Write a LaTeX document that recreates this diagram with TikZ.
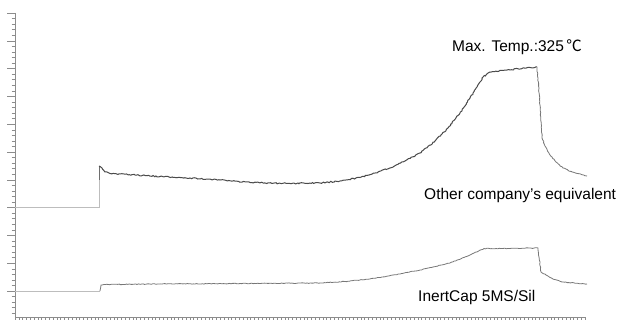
\documentclass[tikz,border=0pt]{standalone}
\usepackage{fontspec}
\setmainfont{Liberation Sans}
\newfontfamily\cjkfont{Noto Sans CJK KR}
\usepackage{tikz}
\usetikzlibrary{decorations.pathmorphing}

\definecolor{axisgray}{HTML}{8C8C8C}
\definecolor{basegray}{HTML}{BDBDBD}
\definecolor{tracegray}{HTML}{4A4A4A}

\tikzset{
	axisline/.style={axisgray, line width=0.8pt},
	tickline/.style={axisgray, line width=0.5pt},
	baseline/.style={basegray, line width=1pt},
	trace/.style={tracegray, line width=1pt, decorate,
		decoration={random steps, segment length=1.5pt, amplitude=0.6pt}},
	tracelight/.style={tracegray!75, line width=0.8pt, decorate,
		decoration={random steps, segment length=1.5pt, amplitude=0.35pt}},
	lbl/.style={font=\fontsize{15.5}{17}\selectfont, inner sep=0pt, anchor=west}
}

\begin{document}
\begin{tikzpicture}[x=1pt, y=-1pt]
	\pgfmathsetseed{7}
	\def\xa{15}		%x of vertical axis
	\def\xb{585}	%right end of time axis
	\def\yb{317}	%y of time axis
	\def\dy{27.8}	%spacing of major ticks on vertical axis
	\useasboundingbox (0,0) rectangle (618,323);

	\draw[axisline] (\xa,13) -- (\xa,\yb) -- (\xb,\yb);	%axes

	\foreach \i in {0,...,10}{
		\draw[tickline] (7,{13+\i*\dy}) -- (\xa,{13+\i*\dy});	%major ticks
		\foreach \j in {1,...,4}{
			\draw[tickline] (11.5,{13+\i*\dy+\j*\dy/5}) -- (\xa,{13+\i*\dy+\j*\dy/5});	%minor ticks
		}
	}
	\foreach \k in {0,...,150}{
		\draw[tickline] ({\xa+\k*3.8},\yb) -- ({\xa+\k*3.8},{\yb+2.5});	%time ticks
	}

	%other company's column
	\draw[baseline] (\xa,207) -- (99,207) -- (99,180);
	\draw[tracegray!80, line width=0.9pt] (99,180) -- (99,166);
	\draw[trace] (99,166) -- (102,168) -- (105,172) -- (110,173.5) -- (135,175) -- (160,176.5) -- (190,178)
		-- (220,180) -- (250,182.5) -- (290,183.5) -- (320,183) -- (340,181) -- (360,177.5) -- (375,173) -- (390,168)
		-- (405,161) -- (420,153) -- (435,141) -- (448,128) -- (460,113) -- (470,98) -- (477,87) -- (483,77)
		-- (490,72) -- (507,70) -- (537,67);
	\draw[tracelight] (537,67) -- (540,105) -- (542,137) -- (545,146) -- (550,155) -- (556,162) -- (563,168)
		-- (572,172) -- (587,176);

	%InertCap column
	\draw[baseline] (\xa,291) -- (100,291);
	\draw[tracelight] (100,291) -- (101,285) -- (104,284.5) -- (150,284) -- (250,283.5) -- (320,283)
		-- (345,281.5) -- (370,279) -- (400,274) -- (420,270) -- (450,263) -- (470,255) -- (484,248.5)
		-- (510,248.5) -- (538,248) -- (541,272) -- (546,275) -- (553,279) -- (563,282) -- (587,284);

	\node[lbl] (maxtemp) at (452,47) {Max. Temp.:325\,{\cjkfont ℃}};
	\node[lbl] (other) at (424,195) {Other company’s equivalent};
	\node[lbl] (inert) at (418,297) {InertCap 5MS/Sil};
\end{tikzpicture}
\end{document}
